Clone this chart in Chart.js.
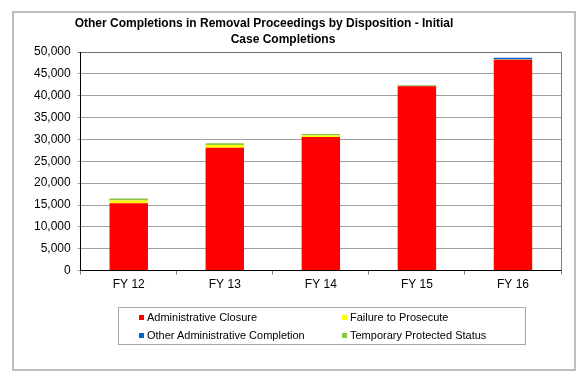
<!DOCTYPE html>
<html>
<head>
<meta charset="utf-8">
<script src="https://cdn.jsdelivr.net/npm/chart.js@4/dist/chart.umd.min.js"></script>
<style>
  html, body { margin: 0; padding: 0; background: #fff; }
  #wrap { position: relative; width: 588px; height: 383px; }
  #c { position: absolute; left: 0; top: 0; }
  #legend { position: absolute; left: 118px; top: 307px; width: 406px; height: 36px;
    border: 1px solid #a6a6a6; font-family: "Liberation Sans", Arial, sans-serif; font-size: 11px; color: #000; }
  .item { position: absolute; white-space: nowrap; line-height: 13px; }
  .mk { position: absolute; width: 5px; height: 5px; }
</style>
</head>
<body>
<div id="wrap">
  <canvas id="c" width="588" height="383"></canvas>
  <div id="legend"></div>
</div>
<script>
const categories = ["FY 12", "FY 13", "FY 14", "FY 15", "FY 16"];
const seriesNames = ["Administrative Closure", "Failure to Prosecute", "Other Administrative Completion", "Temporary Protected Status"];
const adminClosure = [15400, 28100, 30550, 42150, 48250];
const failureToProsecute = [610, 620, 350, 40, 30];
const otherAdminCompletion = [20, 20, 20, 20, 390];
const temporaryProtected = [460, 390, 300, 200, 30];
const yTicks = [0, 5000, 10000, 15000, 20000, 25000, 30000, 35000, 40000, 45000, 50000];
const titleLines = ["Other Completions in Removal Proceedings by Disposition - Initial", "Case Completions"];

const colors = ["#ff0000", "#ffff00", "#0066cc", "#8cc63f"];
const values = [adminClosure, failureToProsecute, otherAdminCompletion, temporaryProtected];

const FONT = '"Liberation Sans", Arial, sans-serif';

const decor = {
  id: 'decor',
  beforeDraw(chart) {
    const ctx = chart.ctx;
    ctx.save();
    ctx.fillStyle = '#fff';
    ctx.fillRect(0, 0, chart.width, chart.height);
    ctx.strokeStyle = '#bdbdbd';
    ctx.lineWidth = 2;
    ctx.strokeRect(13, 12, 562, 358);
    ctx.fillStyle = '#000';
    ctx.font = 'bold 12px ' + FONT;
    ctx.textAlign = 'center';
    ctx.textBaseline = 'middle';
    ctx.fillText(titleLines[0], 264, 24);
    ctx.fillText(titleLines[1], 283, 40);
    ctx.restore();
  },
  afterDatasetsDraw(chart) {
    const ctx = chart.ctx, a = chart.chartArea;
    ctx.save();
    ctx.strokeStyle = '#808080';
    ctx.lineWidth = 1;
    ctx.beginPath();
    ctx.moveTo(Math.round(a.right) + 0.5, a.top);
    ctx.lineTo(Math.round(a.right) + 0.5, a.bottom);
    ctx.stroke();
    ctx.restore();
  }
};

const chart = new Chart(document.getElementById('c'), {
  type: 'bar',
  data: {
    labels: categories,
    datasets: seriesNames.map((n, i) => ({
      label: n,
      data: values[i],
      backgroundColor: colors[i],
      borderWidth: 0,
      categoryPercentage: 1.0,
      barPercentage: 0.4
    }))
  },
  options: {
    responsive: false,
    animation: false,
    devicePixelRatio: 1,
    layout: { padding: { left: 27, right: 27, top: 52, bottom: 88 } },
    plugins: { legend: { display: false }, title: { display: false }, tooltip: { enabled: false } },
    scales: {
      x: {
        stacked: true,
        grid: { display: true, offset: true, drawOnChartArea: false, tickLength: 4, color: '#808080' },
        border: { display: true, color: '#000', width: 1 },
        ticks: { color: '#000', font: { family: FONT, size: 12 }, padding: 3 }
      },
      y: {
        stacked: true,
        min: 0, max: 50000,
        afterBuildTicks(axis) { axis.ticks = yTicks.map(v => ({ value: v })); },
        grid: { color: (c) => c.tick && c.tick.value === 50000 ? '#707070' : '#a0a0a0', tickLength: 3, lineWidth: 1 },
        border: { display: true, color: '#000', width: 1 },
        ticks: {
          color: '#000', font: { family: FONT, size: 12 }, padding: 7,
          callback: (v) => v.toLocaleString('en-US')
        }
      }
    }
  },
  plugins: [decor]
});

// HTML legend built from the chart datasets
const leg = document.getElementById('legend');
const pos = [[20, 3], [223, 3], [20, 21], [223, 21]];
chart.data.datasets.forEach((ds, i) => {
  const mk = document.createElement('div');
  mk.className = 'mk';
  mk.style.background = ds.backgroundColor;
  mk.style.left = pos[i][0] + 'px';
  mk.style.top = (pos[i][1] + 4) + 'px';
  leg.appendChild(mk);
  const t = document.createElement('div');
  t.className = 'item';
  t.textContent = ds.label;
  t.style.left = (pos[i][0] + 8) + 'px';
  t.style.top = pos[i][1] + 'px';
  leg.appendChild(t);
});
</script>
</body>
</html>
